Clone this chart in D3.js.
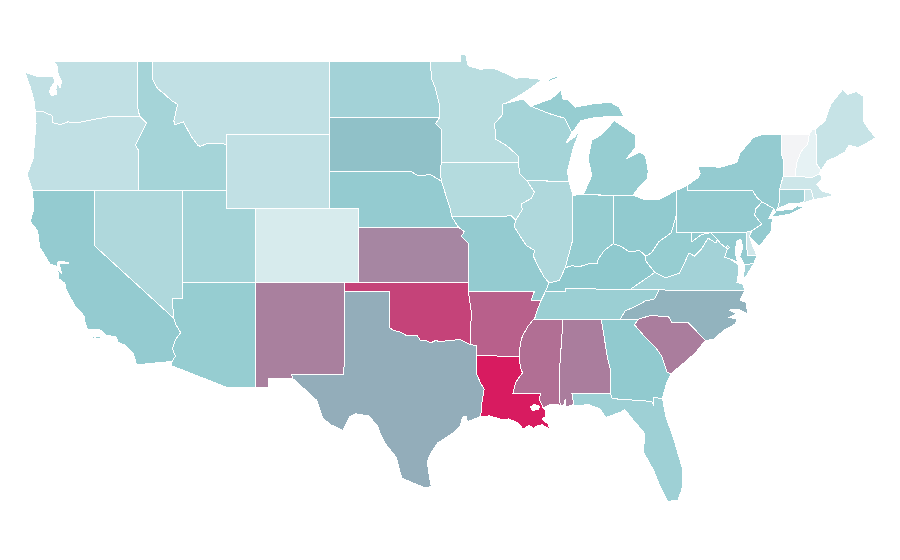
<!DOCTYPE html>
<html>
<head>
<meta charset="utf-8">
<script src="https://cdn.jsdelivr.net/npm/d3@7"></script>
<style>
body { margin: 0; background: #fff; }
path.state { stroke: #fff; stroke-width: 1; fill-rule: evenodd; shape-rendering: crispEdges; }
</style>
</head>
<body>
<svg id="map" width="900" height="560"></svg>
<script>
var stateNames = ["WA","OR","CA","NV","ID","MT","WY","UT","AZ","CO","NM","ND","SD","NE","KS","OK","TX","MN","IA","MO","AR","LA","WI","IL","MS","MI","IN","KY","TN","AL","OH","WV","VA","NC","SC","GA","FL","PA","NY","NJ","DE","MD","DC","CT","RI","MA","VT","NH","ME"];
var stateValues = [20,20,38,27,31,20,20,31,37,11,65,32,43,38,63,86,50,23,25,38,76,100,31,27,71,37,37,40,35,66,39,37,32,48,66,39,34,38,38,38,14,38,30,33,15,15,0,5,18];

// shared borders, lon/lat
var columbia = [[-124.0,46.25],[-123.5,46.27],[-123.2,46.15],[-122.87,46.05],[-122.8,45.65],[-122.3,45.55],[-121.8,45.7],[-121.2,45.65],[-120.7,45.72],[-119.9,45.85],[-119.05,45.98],[-116.92,46.0]];
var snake = [[-116.92,46.0],[-116.46,45.65],[-116.7,45.25],[-116.85,45.0],[-117.2,44.45],[-117.03,44.2],[-117.03,42.0]];
var idMt = [[-116.05,49],[-116.05,48.0],[-115.7,47.5],[-115.3,47.25],[-114.75,46.85],[-114.35,46.65],[-114.6,45.75],[-114.55,45.55],[-113.95,45.7],[-113.45,44.95],[-113.0,44.45],[-112.8,44.37],[-112.3,44.55],[-111.5,44.55],[-111.05,44.47]];
var azRiver = [[-114.72,32.72],[-114.5,33.0],[-114.7,33.4],[-114.5,33.9],[-114.14,34.27],[-114.45,34.7],[-114.6,35.05]];
var redRiver = [[-100,34.56],[-99.7,34.4],[-99.2,34.3],[-98.9,34.15],[-98.5,34.1],[-98.1,34.13],[-97.9,33.88],[-97.45,33.83],[-97.15,33.73],[-96.85,33.85],[-96.5,33.78],[-96.0,33.85],[-95.5,33.88],[-95.2,33.9],[-94.75,33.72],[-94.48,33.64]];
var sabine = [[-94.04,31.99],[-93.8,31.55],[-93.55,31.2],[-93.7,30.5],[-93.7,30.1],[-93.85,29.7]];
var missouriIa = [[-96.45,43.5],[-96.55,43.1],[-96.45,42.49],[-96.1,41.6],[-95.85,41.0],[-95.77,40.58]];
var missouriKs = [[-95.77,40.58],[-95.3,40.0],[-94.9,39.75],[-95.1,39.5],[-94.62,39.1]];
var stCroix = [[-92.05,46.72],[-92.3,46.66],[-92.3,46.1],[-92.85,45.6],[-92.75,44.75],[-92.0,44.4],[-91.25,43.85],[-91.22,43.5]];
var iaWi = [[-91.22,43.5],[-91.15,42.9],[-90.64,42.5]];
var iaIl = [[-90.64,42.5],[-90.15,41.9],[-90.35,41.55],[-91.05,41.25],[-90.95,40.95],[-91.42,40.38]];
var moIl = [[-91.42,40.38],[-91.5,40.0],[-91.1,39.5],[-90.7,39.0],[-90.15,38.75],[-90.2,38.4],[-89.9,37.9],[-89.5,37.3],[-89.15,36.98]];
var moKy = [[-89.15,36.98],[-89.4,36.5]];
var moTn = [[-89.4,36.5],[-89.55,36.25],[-89.7,36.0]];
var arTn = [[-89.7,36.0],[-89.95,35.5],[-90.1,35.1],[-90.2,35.0]];
var arMs = [[-90.2,35.0],[-90.6,34.6],[-90.95,34.1],[-91.1,33.7],[-91.17,33.0]];
var laMs = [[-91.17,33.0],[-91.1,32.4],[-90.95,32.1],[-91.4,31.6],[-91.6,31.0]];
var pearl = [[-89.73,31.0],[-89.8,30.65],[-89.55,30.2]];
var ohioIl = [[-89.15,36.98],[-88.45,37.1],[-88.05,37.8]];
var ohioIn = [[-88.05,37.8],[-87.6,37.9],[-87.1,37.85],[-86.5,38.0],[-85.9,38.0],[-85.8,38.28],[-85.4,38.73],[-84.8,39.1]];
var ohioOh = [[-84.8,39.1],[-84.25,38.95],[-83.7,38.65],[-83.0,38.73],[-82.6,38.42]];
var ohioWv = [[-82.6,38.42],[-82.2,38.6],[-81.95,38.9],[-81.7,39.2],[-80.85,39.7],[-80.52,40.64]];
var bigSandy = [[-82.6,38.42],[-82.6,38.17],[-81.97,37.54]];
var wvVa = [[-81.97,37.54],[-81.25,37.25],[-80.3,37.5],[-80.0,38.0],[-79.65,38.6],[-79.3,38.42],[-78.85,38.77],[-78.35,39.4],[-77.83,39.13],[-77.73,39.32]];
var potomacUp = [[-77.73,39.32],[-78.18,39.69],[-78.8,39.6],[-79.48,39.2]];
var potomacLow = [[-76.3,37.95],[-76.95,38.3],[-77.25,38.35],[-77.05,38.8],[-77.5,39.1],[-77.73,39.32]];
var tnNc = [[-81.68,36.59],[-82.0,36.1],[-82.6,36.0],[-83.1,35.77],[-84.0,35.45],[-84.32,35.0]];
var ncSc = [[-83.1,35.0],[-82.3,35.2],[-81.05,35.15],[-80.8,34.82],[-79.68,34.8],[-78.55,33.86]];
var savannah = [[-83.1,35.0],[-83.35,34.7],[-82.6,34.0],[-81.95,33.5],[-81.5,33.0],[-81.15,32.15],[-80.87,32.03]];
var delaware = [[-74.7,41.36],[-75.13,40.98],[-75.2,40.65],[-74.72,40.15],[-75.4,39.8]];
var alGa = [[-85.6,34.98],[-85.18,32.87],[-85.0,32.3],[-85.0,31.0]];
var ctRiver = [[-71.5,45.0],[-71.6,44.5],[-72.05,44.1],[-72.35,43.5],[-72.46,42.73]];

function rev(a) { return a.slice().reverse(); }

var shapes = {
  WA: [[[-122.75,49],[-116.05,49],[-117.04,49],[-117.04,46.4],[-116.92,46.0]].concat(rev(columbia),[[-124.1,46.9],[-124.35,47.6],[-124.7,48.38],[-123.9,48.17],[-123.15,48.15],[-122.75,48.15],[-122.7,47.85],[-122.95,47.55],[-123.05,47.35],[-122.9,47.12],[-122.55,47.2],[-122.6,47.45],[-122.5,47.8],[-122.32,47.55],[-122.2,47.9],[-122.45,48.25],[-122.5,48.7]])],
  OR: [columbia.concat(snake.slice(1),[[-124.2,42],[-124.55,42.85],[-124.15,43.7],[-124.05,44.7],[-123.95,45.6]])],
  CA: [[[-124.2,42],[-120,42],[-120,39],[-114.6,35.05]].concat(rev(azRiver),[[-117.12,32.53],[-117.25,32.85],[-117.35,33.15],[-117.9,33.6],[-118.4,33.75],[-118.5,34.03],[-119.2,34.15],[-119.6,34.42],[-120.47,34.45],[-120.65,34.9],[-120.65,35.15],[-121.3,35.7],[-121.9,36.6],[-122.0,36.95],[-122.4,37.2],[-122.5,37.75],[-122.2,37.45],[-122.35,37.9],[-122.3,38.05],[-121.7,38.05],[-122.2,38.15],[-122.5,38.1],[-122.5,37.85],[-123.0,38.0],[-123.7,38.9],[-123.85,39.8],[-124.35,40.3],[-124.1,41.0]]),
      [[-120.15,34.05],[-120.0,34.05],[-120.0,33.95],[-120.15,33.95]],[[-119.9,34.05],[-119.55,34.05],[-119.55,33.97],[-119.9,33.97]],[[-118.6,33.45],[-118.35,33.4],[-118.35,33.33],[-118.6,33.38]]],
  NV: [[[-120,42],[-114.04,42],[-114.04,36.15],[-114.72,36.1],[-114.6,35.05],[-120,39]]],
  ID: [[[-117.04,49],[-116.05,49]].concat(idMt.slice(1),[[-111.05,42],[-117.03,42]],rev(snake).slice(1),[[-117.04,46.4]])],
  MT: [[[-116.05,49],[-104.05,49],[-104.05,45],[-111.05,45]].concat(rev(idMt))],
  WY: [[[-111.05,45],[-104.05,45],[-104.05,41],[-111.05,41]]],
  UT: [[[-114.04,42],[-111.05,42],[-111.05,41],[-109.05,41],[-109.05,37],[-114.04,37]]],
  AZ: [[[-114.04,37],[-109.05,37],[-109.05,31.33],[-111.07,31.33],[-114.81,32.5]].concat(azRiver,[[-114.72,36.1],[-114.04,36.15]])],
  CO: [[[-109.05,41],[-102.05,41],[-102.05,37],[-109.05,37]]],
  NM: [[[-109.05,37],[-103,37],[-103.04,36.5],[-103.06,32],[-106.62,32],[-106.55,31.8],[-108.2,31.78],[-108.2,31.33],[-109.05,31.33]]],
  ND: [[[-104.05,49],[-97.23,49],[-97.1,48],[-96.85,47.5],[-96.55,46.5],[-96.56,45.94],[-104.05,45.94]]],
  SD: [[[-104.05,45.94],[-96.56,45.94],[-96.85,45.6],[-96.45,45.3],[-96.45,43.5],[-96.55,43.1],[-96.45,42.49],[-97.2,42.85],[-98.0,42.77],[-98.5,43],[-104.05,43]]],
  NE: [[[-104.05,43],[-98.5,43],[-98.0,42.77],[-97.2,42.85],[-96.45,42.49]].concat(missouriIa.slice(3),[[-95.3,40],[-102.05,40],[-102.05,41],[-104.05,41]])],
  KS: [[[-102.05,40],[-95.3,40]].concat(missouriKs.slice(2),[[-94.62,37],[-102.05,37]])],
  OK: [[[-103,37],[-94.62,37],[-94.62,36.5],[-94.43,35.4]].concat(rev(redRiver),[[-100,36.5],[-103.04,36.5]])],
  TX: [[[-103.06,32],[-103.04,36.5],[-100,36.5]].concat(redRiver,[[-94.04,33.55]],sabine,[[-94.7,29.45],[-94.75,29.75],[-95.0,29.7],[-95.2,29.2],[-95.65,28.85],[-96.3,28.5],[-96.7,28.3],[-97.2,27.7],[-97.4,27.3],[-97.35,26.9],[-97.15,25.96],[-97.5,25.85],[-98.3,26.1],[-99.15,26.4],[-99.5,27.5],[-99.8,27.8],[-100.3,28.3],[-100.65,28.9],[-100.8,29.25],[-101.4,29.77],[-102.3,29.88],[-102.7,29.7],[-103.15,28.98],[-104.0,29.3],[-104.5,29.65],[-104.9,30.6],[-105.5,31.05],[-106.0,31.4],[-106.55,31.8],[-106.62,32]])],
  MN: [[[-97.23,49],[-95.15,49],[-95.15,49.38],[-94.8,49.32],[-94.64,48.74],[-93.8,48.55],[-92.95,48.62],[-92.0,48.3],[-91.4,48.07],[-90.75,48.1],[-89.6,48.0],[-90.8,47.3]].concat(stCroix,[[-96.45,43.5],[-96.45,45.3],[-96.85,45.6],[-96.56,45.94],[-96.55,46.5],[-96.85,47.5],[-97.1,48]])],
  IA: [[[-96.45,43.5]].concat(iaWi,iaIl.slice(1),[[-91.7,40.6]],rev(missouriIa).slice(0,-1))],
  MO: [[[-95.77,40.58],[-91.7,40.6]].concat(moIl,moKy.slice(1),moTn.slice(1),[[-90.37,36],[-90.15,36.5],[-94.62,36.5]],rev(missouriKs).slice(0,-1))],
  AR: [[[-94.62,36.5],[-90.15,36.5],[-90.37,36]].concat(arTn,arMs.slice(1),[[-94.04,33.02],[-94.04,33.55],[-94.48,33.64],[-94.43,35.4]])],
  LA: [[[-94.04,33.02]].concat(laMs,[[-89.73,31.0]],pearl.slice(1),[[-89.4,30.05],[-89.35,29.75],[-89.6,29.6],[-89.2,29.3],[-89.1,29.05],[-89.45,29.2],[-89.6,29.3],[-90.0,29.2],[-90.2,29.1],[-90.5,29.25],[-90.9,29.05],[-91.3,29.4],[-91.9,29.6],[-92.3,29.55],[-93.2,29.77]],rev(sabine)),
      [[-90.42,30.25],[-90.15,30.38],[-89.8,30.3],[-89.85,30.1],[-90.3,30.07]]],
  WI: [rev(stCroix).slice(0,-1).concat([[-92.05,46.72],[-90.9,46.95],[-90.4,46.55],[-89.1,46.14],[-88.1,45.9],[-87.6,45.1],[-88.0,44.55],[-87.4,44.9],[-87.05,45.25],[-87.5,44.3],[-87.9,43.0],[-87.8,42.49],[-90.64,42.5],[-91.15,42.9]])],
  IL: [[[-87.8,42.49]].concat(iaIl,moIl.slice(1),ohioIl.slice(1),[[-87.53,39.35],[-87.53,41.71]])],
  MS: [[[-90.2,35.0],[-88.2,35],[-88.47,31.9],[-88.4,30.35],[-89.0,30.4]].concat(rev(pearl),laMs.slice().reverse(),rev(arMs).slice(1))],
  MI: [[[-86.82,41.76],[-84.8,41.72],[-83.45,41.73],[-83.15,42.05],[-82.5,42.6],[-82.42,43.0],[-82.6,43.85],[-83.0,44.07],[-83.9,43.7],[-83.3,44.3],[-83.3,45.0],[-84.75,45.78],[-85.1,45.4],[-85.6,45.0],[-86.25,44.7],[-86.5,43.7],[-86.25,42.8]],
      [[-90.4,46.55],[-89.1,46.14],[-88.1,45.9],[-87.6,45.1],[-87.0,45.75],[-86.3,45.9],[-85.0,46.0],[-84.1,46.0],[-84.4,46.5],[-85.0,46.77],[-86.2,46.67],[-87.4,46.5],[-87.9,46.9],[-88.25,46.95],[-88.3,47.45],[-89.0,46.95]],
      [[-89.2,48.0],[-88.5,48.2],[-88.5,48.1],[-89.15,47.9]]],
  IN: [[[-87.53,41.71],[-87.2,41.76],[-84.8,41.72],[-84.8,39.1]].concat(rev(ohioIn).slice(1),[[-87.53,39.35]])],
  KY: [[[-89.15,36.98],[-89.4,36.5],[-88.05,36.5],[-88.05,36.68],[-83.68,36.6]].concat(rev(bigSandy),rev(ohioOh).slice(1),rev(ohioIn).slice(1),rev(ohioIl).slice(1))],
  TN: [[[-89.4,36.5],[-88.05,36.5],[-88.05,36.68],[-83.68,36.6]].concat(tnNc,[[-85.6,34.98],[-88.2,35],[-90.2,35]],rev(arTn).slice(1),rev(moTn).slice(1))],
  AL: [[[-88.2,35]].concat(alGa,[[-87.6,31],[-87.45,30.4],[-88.0,30.25],[-88.05,30.65],[-88.15,30.35],[-88.4,30.35],[-88.47,31.9]])],
  OH: [[[-84.8,41.72],[-83.45,41.73],[-82.7,41.5],[-81.7,41.5],[-80.52,41.98]].concat(rev(ohioWv),rev(ohioOh).slice(1))],
  WV: [[[-80.52,40.64],[-80.52,39.72],[-79.48,39.72],[-79.48,39.2]].concat(rev(potomacUp).slice(1),rev(wvVa).slice(1),bigSandy.slice().reverse().slice(1),ohioWv.slice(1))],
  VA: [[[-83.68,36.6],[-81.68,36.59],[-75.87,36.55],[-76.0,36.9],[-76.4,37.0],[-76.3,37.5]].concat(potomacLow,rev(wvVa).slice(1)),
      [[-75.9,37.95],[-75.25,38.03],[-75.65,37.5],[-75.95,37.15]]],
  NC: [[[-84.32,35],[-83.1,35]].concat(ncSc.slice(1),[[-78.0,33.9],[-77.3,34.4],[-76.5,34.75],[-76.4,35.0],[-76.9,35.1],[-76.45,35.3],[-76.9,35.5],[-76.3,35.55],[-75.7,35.3],[-75.75,35.9],[-76.2,36.05],[-75.87,36.55],[-81.68,36.59]],tnNc.slice(1))],
  SC: [ncSc.concat([[-79.2,33.2],[-79.9,32.7],[-80.5,32.3]],rev(savannah))],
  GA: [[[-85.6,34.98],[-84.32,35]].concat(savannah,[[-81.2,31.5],[-81.45,30.72],[-82.05,30.75],[-82.05,30.35],[-82.2,30.55],[-84.86,30.7],[-85.0,31.0]],alGa.slice(1,3).reverse())],
  FL: [[[-87.6,31],[-85,31],[-84.86,30.7],[-82.2,30.55],[-82.05,30.35],[-82.05,30.75],[-81.45,30.72],[-81.25,29.8],[-80.65,28.4],[-80.1,26.9],[-80.13,25.8],[-80.4,25.2],[-81.1,25.13],[-81.6,25.9],[-82.05,26.8],[-82.75,27.8],[-82.65,28.8],[-83.4,29.5],[-84.0,30.1],[-84.35,29.95],[-85.3,29.68],[-85.7,30.15],[-86.5,30.38],[-87.45,30.3]]],
  PA: [[[-80.52,41.98],[-79.76,42.27],[-79.76,42],[-75.35,42],[-75.05,41.6]].concat(delaware,[[-75.79,39.72],[-80.52,39.72],[-80.52,40.64]])],
  NY: [[[-79.76,42.27],[-79.0,42.7],[-78.9,42.9],[-79.05,43.27],[-77.5,43.25],[-76.4,43.5],[-76.2,44.0],[-75.3,44.85],[-74.7,45],[-73.35,45],[-73.4,44],[-73.25,43.6],[-73.27,42.75],[-73.5,42.05],[-73.55,41.3],[-73.65,41.0],[-73.8,40.8],[-73.9,41.0],[-74.7,41.36],[-75.05,41.6],[-75.35,42],[-79.76,42]],
      [[-74.0,40.6],[-73.75,40.87],[-72.6,40.98],[-72.3,41.15],[-71.87,41.07],[-72.8,40.7],[-73.9,40.55]]],
  NJ: [[[-74.7,41.36],[-73.9,41.0],[-74.25,40.47],[-74.0,40.45],[-74.1,39.75],[-74.9,38.93],[-75.55,39.5],[-75.4,39.8]].concat(rev(delaware).slice(1,-1))],
  DE: [[[-75.79,39.72],[-75.4,39.8],[-75.55,39.5],[-75.4,39.1],[-75.05,38.45],[-75.7,38.46]]],
  MD: [[[-79.48,39.72],[-75.79,39.72],[-75.7,38.46],[-75.05,38.45],[-75.25,38.03],[-75.9,37.95],[-76.2,38.4],[-76.0,38.9],[-76.15,39.35],[-76.45,39.2],[-76.5,38.5],[-76.35,38.1]].concat(potomacLow.slice(1),potomacUp.slice(1))],
  DC: [[[-77.12,38.93],[-77.04,39.0],[-76.91,38.89],[-77.04,38.8]]],
  CT: [[[-73.5,42.05],[-71.8,42.02],[-71.86,41.32],[-72.9,41.25],[-73.65,41.0],[-73.55,41.3]]],
  RI: [[[-71.8,42.02],[-71.38,42.02],[-71.33,41.9],[-71.2,41.5],[-71.86,41.32]]],
  MA: [[[-73.5,42.05],[-73.27,42.75],[-72.46,42.73],[-71.3,42.7],[-70.82,42.87],[-70.6,42.65],[-71.0,42.3],[-70.6,41.95],[-70.0,41.8],[-70.2,42.07],[-69.95,41.7],[-70.65,41.55],[-71.2,41.5],[-71.33,41.9],[-71.38,42.02],[-71.8,42.02]]],
  VT: [[[-73.35,45]].concat(ctRiver,[[-73.27,42.75],[-73.25,43.6],[-73.4,44]])],
  NH: [[[-71.5,45],[-71.3,45.3],[-71.05,45.3],[-70.98,43.4],[-70.7,43.07],[-70.82,42.87],[-71.3,42.7]].concat(rev(ctRiver).slice(0,-1))],
  ME: [[[-71.05,45.3],[-70.4,45.8],[-70.25,46.2],[-70.0,46.7],[-69.23,47.46],[-68.9,47.18],[-68.3,47.35],[-67.8,47.07],[-67.8,45.7],[-67.45,45.3],[-67.0,44.85],[-67.6,44.55],[-68.2,44.3],[-68.8,44.45],[-69.1,44.05],[-69.8,43.75],[-70.25,43.6],[-70.7,43.07],[-70.98,43.4]]]
};

var x = d3.scaleLinear().domain([-109.05, -66.95]).range([255.7, 876.3]);
var y = d3.scaleLinear().domain([49, 25.13]).range([61, 501.4]);
var color = d3.scaleLinear().domain([0, 5, 40, 50, 63, 100]).range(['#f3f4f6', '#e6f2f4', '#8fc9ce', '#93adba', '#a686a2', '#d81b60']);

var flat = d3.geoTransform({
    point: function (lon, lat) {
        this.stream.point(x(lon), y(lat));
    }
});
var path = d3.geoPath(flat);

var toFeature = function (name, i) {
    var polys = [];
    shapes[name].forEach(function (ring) {
        polys.push([ring.concat([ring[0]])]);
    });
    return { type: 'Feature', id: name, value: stateValues[i], geometry: { type: 'MultiPolygon', coordinates: polys } };
};

d3.select('#map').selectAll('path')
    .data(stateNames.map(toFeature))
    .enter()
    .append('path')
    .attr('class', 'state')
    .attr('d', path)
    .style('fill', function (d) { return color(d.value); });
</script>
</body>
</html>
